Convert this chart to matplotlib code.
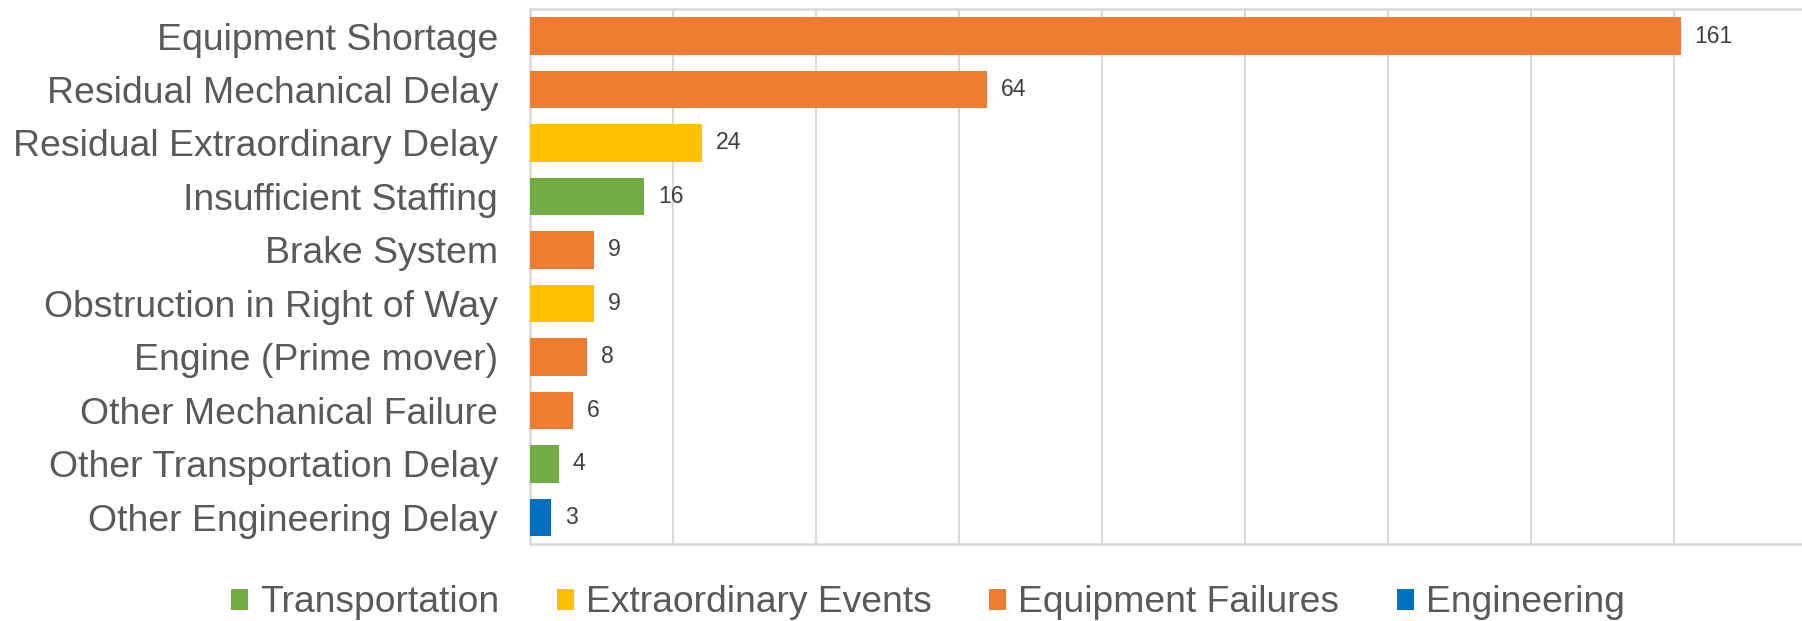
import matplotlib
matplotlib.use("Agg")
import matplotlib.pyplot as plt
from matplotlib.patches import Patch

plt.rcParams['font.family'] = ['Liberation Sans', 'DejaVu Sans']

# Datos (de arriba hacia abajo)
causes = ['Equipment Shortage', 'Residual Mechanical Delay', 'Residual Extraordinary Delay',
          'Insufficient Staffing', 'Brake System', 'Obstruction in Right of Way',
          'Engine (Prime mover)', 'Other Mechanical Failure', 'Other Transportation Delay',
          'Other Engineering Delay']
counts = [161, 64, 24, 16, 9, 9, 8, 6, 4, 3]
groups = ['Equipment Failures', 'Equipment Failures', 'Extraordinary Events',
          'Transportation', 'Equipment Failures', 'Extraordinary Events',
          'Equipment Failures', 'Equipment Failures', 'Transportation', 'Engineering']

legend_order = ['Transportation', 'Extraordinary Events', 'Equipment Failures', 'Engineering']
group_colors = {'Transportation': '#70AD47', 'Extraordinary Events': '#FFC000',
                'Equipment Failures': '#ED7D31', 'Engineering': '#0070C0'}

fig = plt.figure(figsize=(18.02, 6.21), dpi=100)
ax = fig.add_axes([0.2941, 0.124, 0.714, 0.861])

ypos = list(range(len(causes)))
bars = ax.barh(ypos, counts, height=0.7, color=[group_colors[g] for g in groups], zorder=3)
ax.bar_label(bars, labels=[str(c) for c in counts], padding=10, fontsize=16.6, color='#404040')

ax.set_xlim(0, 180)
ax.set_ylim(len(causes) - 0.5, -0.5)
ax.set_xticks(range(0, 181, 20))
ax.set_xticklabels([])
ax.set_yticks(ypos)
ax.set_yticklabels(causes, fontsize=26.9, color='#595959')
ax.tick_params(axis='both', length=0)
ax.tick_params(axis='y', pad=23)
ax.grid(axis='x', color='#d9d9d9', linewidth=1.5, zorder=0)
for s in ax.spines.values():
    s.set_color('#d9d9d9')
    s.set_linewidth(1.8)

handles = [Patch(facecolor=group_colors[g], edgecolor='none', label=g) for g in legend_order]
fig.legend(handles=handles, loc='center', bbox_to_anchor=(0.515, 0.029), ncol=4,
           frameon=False, fontsize=26.8, handlelength=0.46, handleheight=0.5,
           handletextpad=0.32, columnspacing=1.55, labelcolor='#595959',
           borderpad=0, borderaxespad=0)

fig.savefig('out.png', dpi=100)
